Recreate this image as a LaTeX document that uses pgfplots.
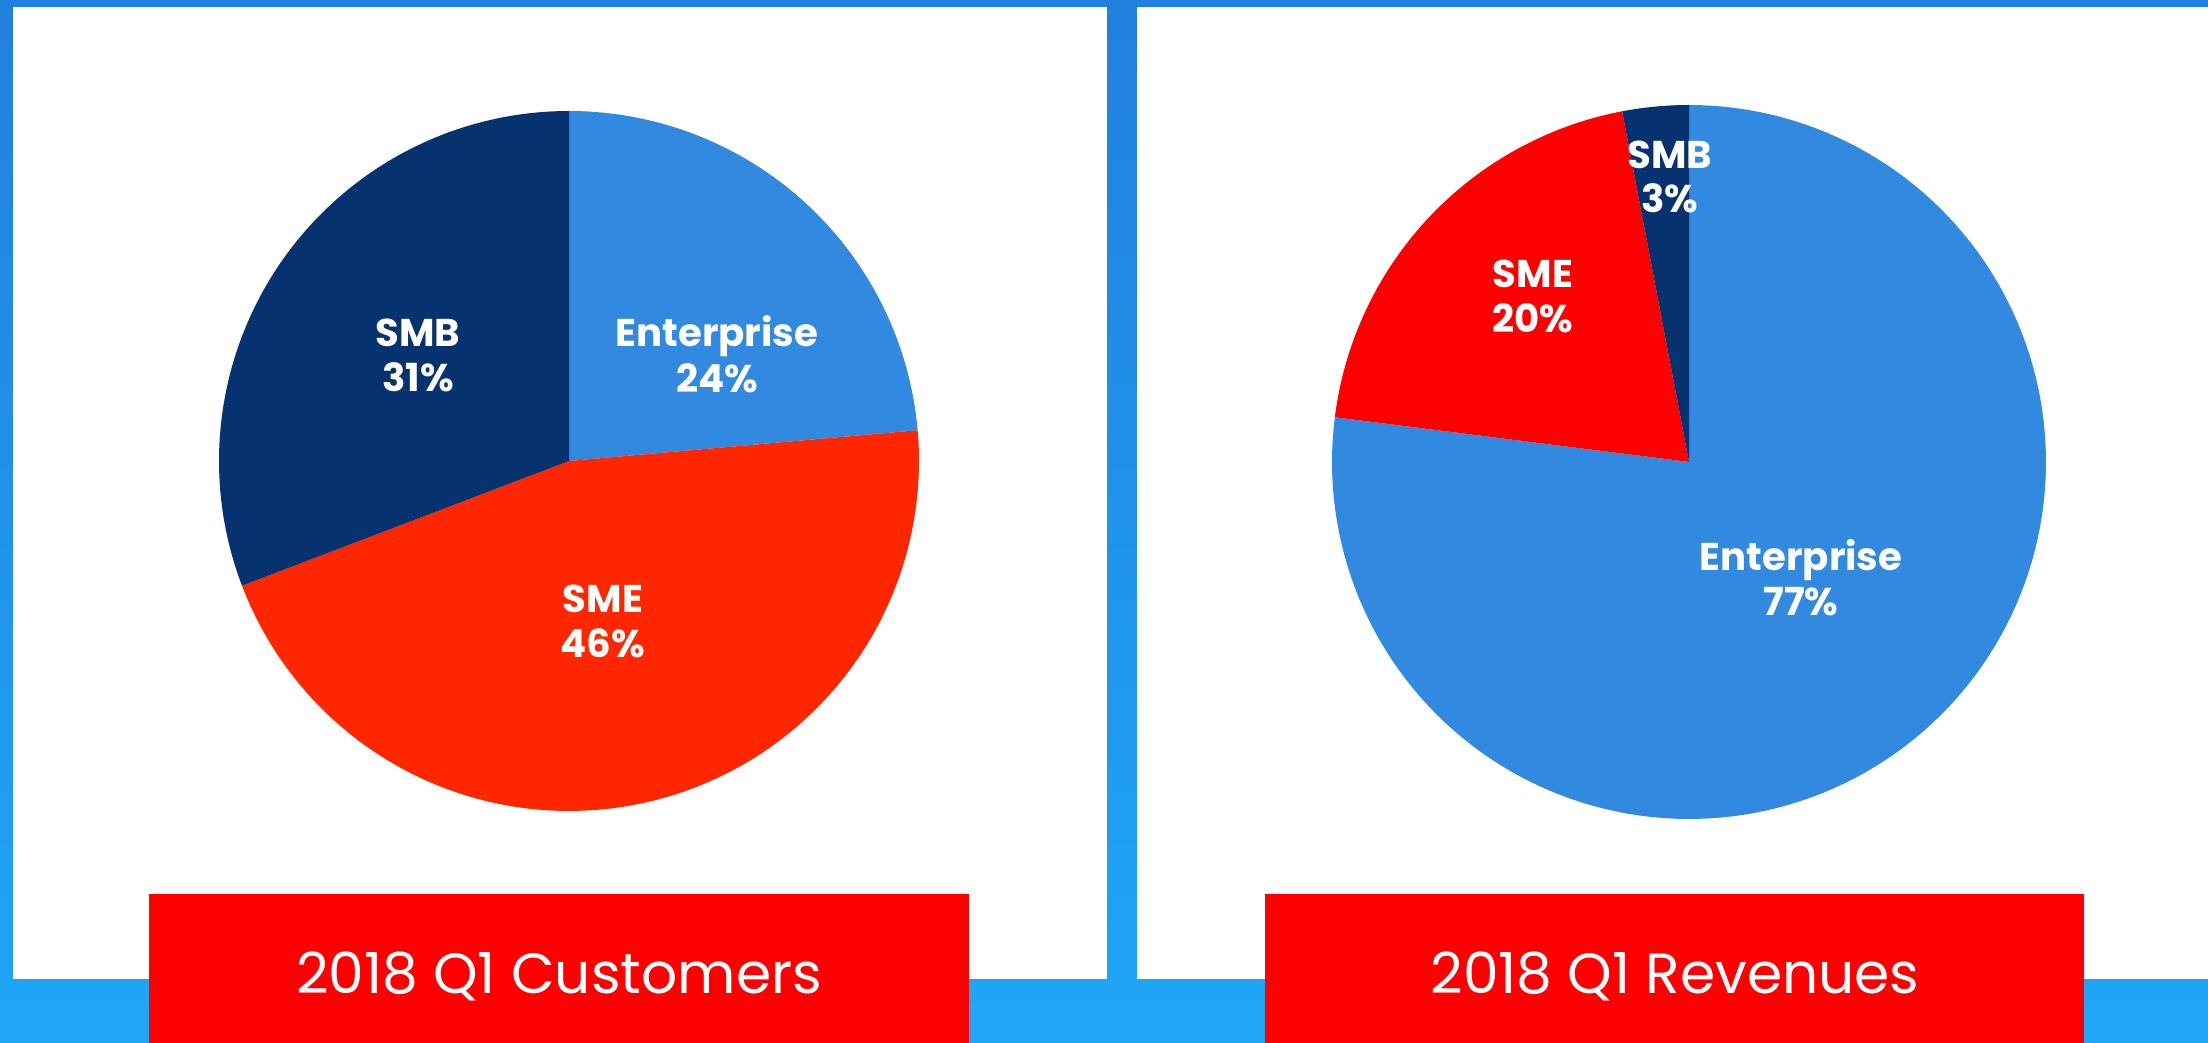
\documentclass[border=0pt]{standalone}
\usepackage{fontspec}
\setmainfont{Poppins}
\usepackage{pgfplots}
\pgfplotsset{compat=1.18}

\definecolor{bgtop}{HTML}{2280DE}
\definecolor{bgbot}{HTML}{1FA7F5}
\definecolor{entblue}{HTML}{318AE0}
\definecolor{smbnavy}{HTML}{063370}
\definecolor{smeorange}{HTML}{FF2600}
\definecolor{smered}{HTML}{FF0000}
\definecolor{boxred}{HTML}{FF0000}

% shares in percent, clockwise from 12 o'clock
\def\custEnt{23.6}\def\custSME{45.6}\def\custSMB{30.8}
\def\revEnt{77}\def\revSME{20}\def\revSMB{3}

\pgfplotsset{
  pieaxis/.style={hide axis, scale only axis, clip=false,
    xmin=-1, xmax=1, ymin=-1, ymax=1, anchor=center},
}
% \pieslice{colour}{start (percent)}{share (percent)}
\newcommand\pieslice[3]{%
  \pgfmathsetmacro\wa{90-3.6*(#2)}%
  \pgfmathsetmacro\wb{90-3.6*((#2)+(#3))}%
  \addplot[draw=none, fill=#1, samples=150, domain=\wb:\wa]
    ({cos(x)}, {sin(x)}) -- (axis cs:0,0) -- cycle;
}

\newcommand\lblfont{\fontsize{11.6}{13.5}\selectfont\bfseries}
\newcommand\ttlfont{\fontsize{17}{20}\selectfont}

\begin{document}
\begin{tikzpicture}[x=0.3pt, y=0.3pt]
\useasboundingbox (0,0) rectangle (2208,1043);
% background and panels
\shade[top color=bgtop, bottom color=bgbot] (0,0) rectangle (2208,1043);
\fill[white] (13,64) rectangle (1107,1036);
\fill[white] (1137,64) rectangle (2208,1036);

% customers pie (centre 569,582 px)
\begin{axis}[pieaxis, at={(170.7pt,174.6pt)}, width=210pt, height=210pt]
\pieslice{entblue}{0}{\custEnt}
\pieslice{smeorange}{\custEnt}{\custSME}
\pieslice{smbnavy}{\custEnt+\custSME}{\custSMB}
\end{axis}

% revenues pie (centre 1689,581 px)
\begin{axis}[pieaxis, at={(506.7pt,174.3pt)}, width=214.2pt, height=214.2pt]
\pieslice{entblue}{0}{\revEnt}
\pieslice{smered}{\revEnt}{\revSME}
\pieslice{smbnavy}{\revEnt+\revSME}{\revSMB}
\end{axis}

\begin{scope}[every node/.style={anchor=base, inner sep=0pt, text=white, font=\lblfont}]
\node at (418,696) {SMB};        \node at (418,651) {31\%};
\node at (717,696) {Enterprise}; \node at (717,650) {24\%};
\node at (603,430) {SME};        \node at (603,385) {46\%};
\node at (1670,874) {SMB};       \node at (1670,830) {3\%};
\node at (1533,755) {SME};       \node at (1533,710) {20\%};
\node at (1801,472) {Enterprise};\node at (1801,427) {77\%};
\end{scope}

% title boxes
\fill[boxred] (149,0) rectangle (969,149);
\fill[boxred] (1265,0) rectangle (2084,149);
\node[anchor=base, inner sep=0pt, text=white, font=\ttlfont] at (559,49) {2018 Q1 Customers};
\node[anchor=base, inner sep=0pt, text=white, font=\ttlfont] at (1675,49) {2018 Q1 Revenues};
\end{tikzpicture}
\end{document}
